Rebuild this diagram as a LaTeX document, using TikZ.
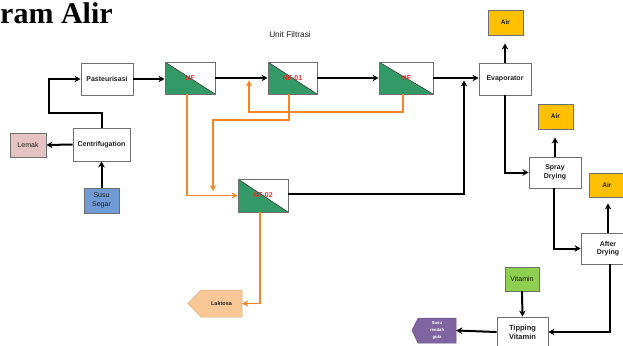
\documentclass[tikz,border=0pt]{standalone}
\usepackage{fontspec}
\setmainfont{Liberation Sans}
\newfontfamily\titlefont{Liberation Serif}
\usetikzlibrary{arrows.meta}
\definecolor{fgreen}{HTML}{339966}
\definecolor{boxgray}{HTML}{6F6F6F}
\definecolor{txtdark}{HTML}{1F1F1F}
\definecolor{forange}{HTML}{F5852A}
\definecolor{lemakpink}{HTML}{E6C3C3}
\definecolor{susublue}{HTML}{6F9BD6}
\definecolor{lakpeach}{HTML}{F9C896}
\definecolor{vitgreen}{HTML}{8FCF4F}
\definecolor{airyellow}{HTML}{FFC000}
\definecolor{sugarpurple}{HTML}{8064A2}
\definecolor{filtred}{HTML}{F02828}
\begin{document}
\begin{tikzpicture}[x=1pt,y=-1pt,
  box/.style={draw=boxgray, line width=0.9pt, fill=white, inner sep=0pt, align=center,
    text=txtdark, font=\bfseries\fontsize{7}{8.5}\selectfont},
  plainbox/.style={draw=boxgray, line width=0.9pt, inner sep=0pt, align=center,
    text=txtdark, font=\fontsize{7}{8.5}\selectfont},
  airbox/.style={draw=boxgray, line width=0.9pt, fill=airyellow, inner sep=0pt,
    minimum width=35pt, minimum height=25pt, text=txtdark, font=\bfseries\fontsize{6.5}{8}\selectfont},
  filt/.style={draw=boxgray, line width=0.9pt, inner sep=0pt, text=filtred,
    font=\bfseries\fontsize{7}{8}\selectfont,
    path picture={
      \fill[fgreen] (path picture bounding box.north west) -- (path picture bounding box.south west)
        -- (path picture bounding box.south east) -- cycle;
      \draw[black!80, line width=0.5pt] (path picture bounding box.north west) -- (path picture bounding box.south east);}},
  arr/.style={line width=2pt, -{Stealth[length=6pt,width=6.5pt]}},
  oarr/.style={draw=forange, line width=1.8pt, -{Stealth[length=6pt,width=6.5pt]}}
]
\useasboundingbox (0,0) rectangle (623,345);
\fill[white] (0,0) rectangle (623,345);
\clip (0,0) rectangle (623,345);

% title
\node[anchor=base west, inner sep=0pt, font=\titlefont\bfseries\fontsize{30}{32}\selectfont] (title) at (0,23.5) {ram Alir};
\node[inner sep=0pt, text=txtdark, font=\fontsize{8.3}{10}\selectfont] (unitf) at (290,35) {Unit Filtrasi};

% nodes
\node[box, minimum width=52pt, minimum height=32pt] (past) at (107,79) {Pasteurisasi};
\node[filt, minimum width=50pt, minimum height=32pt] (uf) at (190,78) {UF};
\node[filt, minimum width=49pt, minimum height=32pt] (nf1) at (292.5,78) {NF-01};
\node[filt, minimum width=54pt, minimum height=32pt] (mf) at (406,78) {MF};
\node[box, minimum width=52pt, minimum height=32pt] (evap) at (505,79) {Evaporator};
\node[airbox] (air1) at (505.5,22.5) {Air};
\node[box, minimum width=57pt, minimum height=33pt] (cent) at (101.5,144.5) {Centrifugation};
\node[plainbox, fill=lemakpink, minimum width=36pt, minimum height=24pt] (lemak) at (28,145) {Lemak};
\node[plainbox, fill=susublue, minimum width=35pt, minimum height=25pt] (susu) at (101.5,200.5) {Susu\\Segar};
\node[filt, minimum width=50pt, minimum height=33pt] (nf2) at (263,195.5) {NF-02};
\node[box, minimum width=52pt, minimum height=31pt] (spray) at (555,172.5) {Spray\\Drying};
\node[airbox] (air2) at (555.5,116.5) {Air};
\node[box, minimum width=54pt, minimum height=31pt] (after) at (608,248.5) {After\\Drying};
\node[airbox, minimum width=36pt, minimum height=24pt] (air3) at (607,185) {Air};
\node[plainbox, fill=vitgreen, minimum width=34pt, minimum height=24pt] (vit) at (522,279) {Vitamin};
\node[box, minimum width=51pt, minimum height=30pt, font=\bfseries\fontsize{7.5}{9}\selectfont] (tip) at (522.5,332) {Tipping\\Vitamin};

% pentagon outputs
\filldraw[fill=lakpeach, draw=lakpeach!85!black, line width=0.5pt]
  (188,303.5) -- (201,290) -- (242,290) -- (242,317) -- (201,317) -- cycle;
\node[inner sep=0pt, minimum width=41pt, minimum height=27pt, text=txtdark,
  font=\bfseries\fontsize{5.5}{6.5}\selectfont] (lak) at (221.5,303.5) {Laktosa};
\filldraw[fill=sugarpurple, draw=sugarpurple!85!black, line width=0.5pt]
  (412,330.5) -- (418,318) -- (456,318) -- (456,343) -- (418,343) -- cycle;
\node[inner sep=0pt, minimum width=38pt, minimum height=25pt, align=center, text=white,
  font=\bfseries\fontsize{4.3}{6.8}\selectfont] (srg) at (437,330.5) {Susu\\rendah\\gula};

% black connectors
\draw[arr] (susu.north) -- (cent.south);
\draw[arr] (cent.west) -- (lemak.east);
\draw[arr] (cent.north) |- (49,113) |- (past.west);
\draw[arr] (past.east) -- (uf.west |- past.east);
\draw[arr] (uf.east) -- (nf1.west);
\draw[arr] (nf1.east) -- (mf.west);
\draw[arr] (mf.east) -- (evap.west |- mf.east);
\draw[arr, shorten >=8pt] (evap.north) -- (evap.north |- air1.south);
\draw[arr] (nf2.east |- 0,194) -| (464,80.5);
\draw[arr] (evap.south) |- (spray.west);
\draw[arr, shorten >=8pt] (spray.north) -- (spray.north |- air2.south);
\draw[arr] ([xshift=-1pt]spray.south) |- (after.west);
\draw[arr, shorten >=6pt] (after.north) -- (after.north |- air3.south);
\draw[arr] ([xshift=2pt]after.south) |- (tip.east);
\draw[arr] (vit.south) -- (tip.north);
\draw[arr] (tip.west) -- (srg.east);

% orange connectors
\draw[oarr] ([xshift=-3pt]uf.south) |- (nf2.west);
\draw[oarr] ([xshift=-3.5pt]nf1.south) |- (213,120) -- (213,191);
\draw[oarr] ([xshift=-3pt]mf.south) |- (249,112) -- (249,80.5);
\draw[oarr] ([xshift=-3pt]nf2.south) |- (lak.east);
\end{tikzpicture}
\end{document}
